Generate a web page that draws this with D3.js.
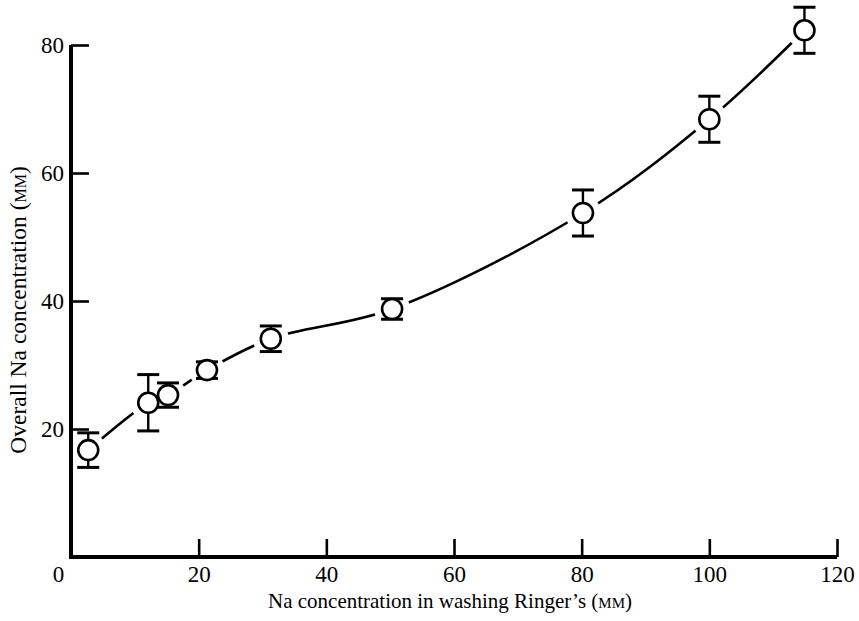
<!DOCTYPE html>
<html>
<head>
<meta charset="utf-8">
<script src="https://cdn.jsdelivr.net/npm/d3@7"></script>
<style>
  body { margin: 0; background: #fff; }
  svg { display: block; }
  text { font-family: "Liberation Serif", "DejaVu Serif", serif; fill: #000; }
</style>
</head>
<body>
<div id="wrapper"></div>
<script>
// values
const naWash = [2.7, 12.1, 15.2, 21.3, 31.3, 50.3, 80.2, 100, 114.9];
const naOverall = [16.7, 24.1, 25.3, 29.2, 34.1, 38.75, 53.75, 68.4, 82.3];
const naError = [2.7, 4.4, 1.9, 1.3, 2.0, 1.6, 3.6, 3.6, 3.6];
const xTicks = [0, 20, 40, 60, 80, 100, 120];
const yTicks = [20, 40, 60, 80];

function buildPlot() {
    const data = naWash.map((x, i) => ({x: x, y: naOverall[i], e: naError[i]}));

    const dimension = {width: 859, height: 621};

    const svg = d3.select("#wrapper").append("svg")
        .attr("width", dimension.width)
        .attr("height", dimension.height);

    const xScaler = d3.scaleLinear().domain([0, 120]).range([71, 837]);
    const yScaler = d3.scaleLinear().domain([0, 80]).range([557, 45]);

    // fitted curve
    const lineGenerator = d3.line()
        .x(d => xScaler(d.x))
        .y(d => yScaler(d.y))
        .curve(d3.curveCatmullRom.alpha(0.5));

    svg.append("path")
        .datum(data)
        .attr("d", lineGenerator)
        .attr("fill", "none")
        .attr("stroke", "#000")
        .attr("stroke-width", 2.6);

    // gaps in the curve around each marker
    svg.append("g").selectAll("circle")
        .data(data)
        .join("circle")
        .attr("cx", d => xScaler(d.x))
        .attr("cy", d => yScaler(d.y))
        .attr("r", 18)
        .attr("fill", "#fff");

    // axes
    const xAxis = d3.axisBottom(xScaler)
        .tickValues(xTicks)
        .tickSizeInner(-18)
        .tickSizeOuter(0)
        .tickPadding(9);
    const gx = svg.append("g")
        .attr("transform", `translate(0,${yScaler(0)})`)
        .call(xAxis);

    const yAxis = d3.axisLeft(yScaler)
        .tickValues(yTicks)
        .tickSizeInner(-18)
        .tickSizeOuter(0)
        .tickPadding(7);
    const gy = svg.append("g")
        .attr("transform", `translate(${xScaler(0)},0)`)
        .call(yAxis);

    [gx, gy].forEach(g => {
        g.select(".domain").attr("stroke", "#000").attr("stroke-width", 4);
        g.selectAll(".tick line").attr("stroke", "#000").attr("stroke-width", 2.6);
        g.selectAll(".tick text")
            .style("font-family", "'Liberation Serif', serif")
            .style("font-size", "23px")
            .attr("fill", "#000");
    });
    gx.selectAll(".tick").filter(d => d === 0).select("line").remove();
    gx.selectAll(".tick").filter(d => d === 0).select("text").attr("dx", -13);
    gy.select(".domain").attr("d", `M0,${yScaler(80)}V${yScaler(0) + 2}`);
    gx.select(".domain").attr("d", `M${xScaler(0) - 2},0H${xScaler(120)}`);

    // error bars
    const bars = svg.append("g")
        .attr("stroke", "#000")
        .attr("fill", "none");
    bars.selectAll("line.v")
        .data(data)
        .join("line")
        .attr("class", "v")
        .attr("x1", d => xScaler(d.x))
        .attr("x2", d => xScaler(d.x))
        .attr("y1", d => yScaler(d.y + d.e))
        .attr("y2", d => yScaler(d.y - d.e))
        .attr("stroke-width", 2.4);
    ["top", "bottom"].forEach(side => {
        bars.selectAll("line." + side)
            .data(data)
            .join("line")
            .attr("class", side)
            .attr("x1", d => xScaler(d.x) - 11)
            .attr("x2", d => xScaler(d.x) + 11)
            .attr("y1", d => yScaler(side === "top" ? d.y + d.e : d.y - d.e))
            .attr("y2", d => yScaler(side === "top" ? d.y + d.e : d.y - d.e))
            .attr("stroke-width", 3);
    });

    // open circles
    svg.append("g").selectAll("circle")
        .data(data)
        .join("circle")
        .attr("cx", d => xScaler(d.x))
        .attr("cy", d => yScaler(d.y))
        .attr("r", 10)
        .attr("fill", "#fff")
        .attr("stroke", "#000")
        .attr("stroke-width", 2.6);

    // axis titles
    const xTitle = svg.append("text")
        .attr("x", 450)
        .attr("y", 608)
        .attr("text-anchor", "middle")
        .style("font-size", "21px")
        .text("Na concentration in washing Ringer\u2019s (");
    xTitle.append("tspan").style("font-variant", "small-caps").text("mm");
    xTitle.append("tspan").text(")");

    const yTitle = svg.append("text")
        .attr("transform", "translate(26,310) rotate(-90)")
        .attr("text-anchor", "middle")
        .style("font-size", "23.5px")
        .text("Overall Na concentration (");
    yTitle.append("tspan").style("font-variant", "small-caps").text("mm");
    yTitle.append("tspan").text(")");
}

buildPlot();
</script>
</body>
</html>
